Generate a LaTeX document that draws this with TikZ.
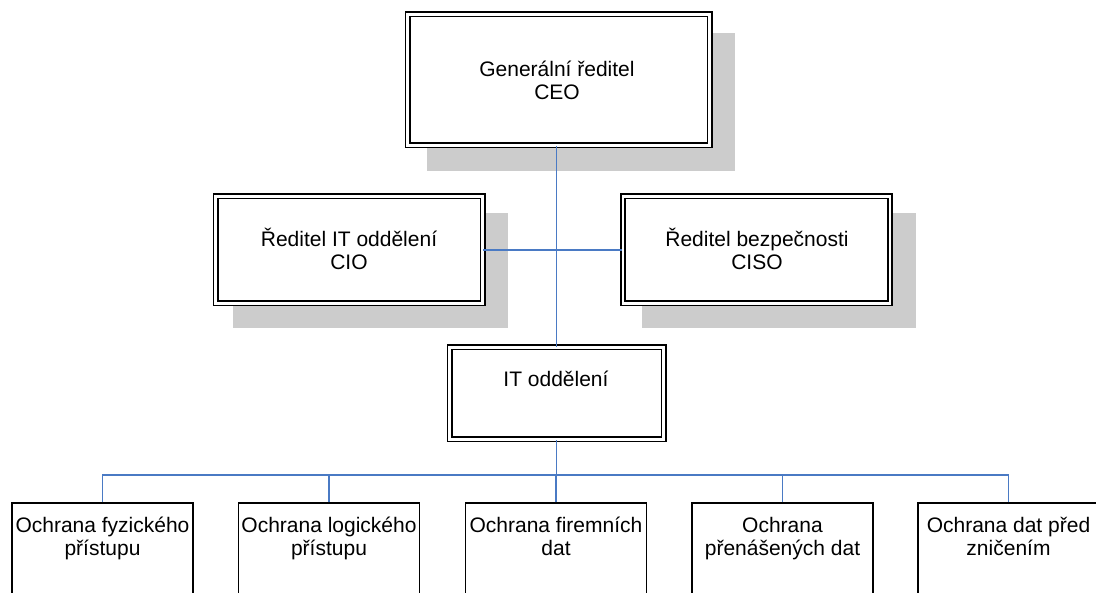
\documentclass[tikz,border=0pt]{standalone}
\usepackage{fontspec}
\setmainfont{Liberation Sans}
\definecolor{conn}{RGB}{74,122,196}
\definecolor{shade}{RGB}{204,204,204}
\tikzset{
  dbox/.style={draw=black, double=white, double distance=2.6pt, line width=1.7pt, fill=white, inner sep=0pt},
  sbox/.style={draw=black, line width=1.4pt, fill=white, inner sep=0pt, minimum width=181pt, minimum height=130pt},
  shadowbox/.style={fill=shade, draw=none, inner sep=0pt},
  txt/.style={font=\fontsize{21}{23}\selectfont, align=center, inner sep=0pt, anchor=base},
  link/.style={draw=conn, line width=1.5pt}
}
\begin{document}
\begin{tikzpicture}[x=1pt,y=-1pt]
\useasboundingbox (0,0) rectangle (1096,593);
\clip (0,0) rectangle (1096,593);
% shadows
\node[shadowbox, minimum width=308pt, minimum height=138pt] (ceoS) at (581,102) {};
\node[shadowbox, minimum width=275pt, minimum height=115pt] (cioS) at (370.5,271) {};
\node[shadowbox, minimum width=274pt, minimum height=115pt] (cisoS) at (779,271) {};
% boxes
\node[dbox, minimum width=302pt, minimum height=131pt] (ceo) at (558.5,80) {};
\node[dbox, minimum width=267pt, minimum height=107pt] (cio) at (349,250) {};
\node[dbox, minimum width=267pt, minimum height=107pt] (ciso) at (756.5,250) {};
\node[dbox, minimum width=214pt, minimum height=92pt] (it) at (556.5,393.5) {};
\node[sbox] (b1) at (102.5,568) {};
\node[sbox] (b2) at (329,568) {};
\node[sbox] (b3) at (556,568) {};
\node[sbox] (b4) at (782.5,568) {};
\node[sbox] (b5) at (1008.5,568) {};
% texts (base anchor = baseline of the last line)
\node[txt] (tceo) at (557,100) {Generální ředitel\\CEO};
\node[txt] (tcio) at (349,270) {Ředitel IT oddělení\\CIO};
\node[txt] (tciso) at (757,270) {Ředitel bezpečnosti\\CISO};
\node[txt] (tit) at (556,387) {IT oddělení};
\node[txt] (t1) at (102.5,555) {Ochrana fyzického\\přístupu};
\node[txt] (t2) at (329,555) {Ochrana logického\\přístupu};
\node[txt] (t3) at (556,555) {Ochrana firemních\\dat};
\node[txt] (t4) at (782.5,555) {Ochrana\\přenášených dat};
\node[txt] (t5) at (1008.5,555) {Ochrana dat před\\zničením};
% connectors
\coordinate (bus) at (556.5,475);
\draw[link] (ceo.south -| it.north) -- (it.north);
\draw[link] (cio.east) -- (ciso.west);
\draw[link] (it.south) -- (bus);
\draw[link] (b1.north) |- (bus);
\draw[link] (b2.north) |- (bus);
\draw[link] (b3.north) |- (bus);
\draw[link] (b4.north) |- (bus);
\draw[link] (b5.north) |- (bus);
\end{tikzpicture}
\end{document}
